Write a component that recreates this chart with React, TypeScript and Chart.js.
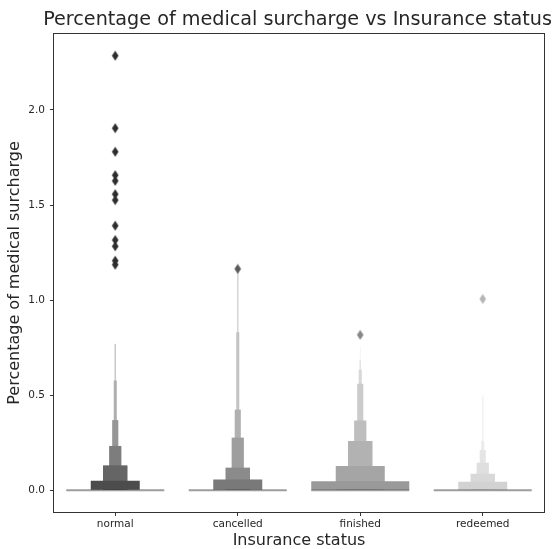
import React, { useEffect, useRef } from 'react';
import { Chart, registerables } from 'chart.js';

Chart.register(...registerables);

const TITLE = 'Percentage of medical surcharge vs Insurance status';
const X_LABEL = 'Insurance status';
const Y_LABEL = 'Percentage of medical surcharge';

const CATEGORIES = ['normal', 'cancelled', 'finished', 'redeemed'];
const Y_TICKS = [0, 0.5, 1.0, 1.5, 2.0];

// Upper letter values of each nested box (widest box first); all boxes start at 0
const NORMAL_LEVELS = [0, 0.05, 0.131, 0.233, 0.369, 0.577, 0.77];
const CANCELLED_LEVELS = [0, 0.056, 0.119, 0.277, 0.424, 0.831, 1.146];
const FINISHED_LEVELS = [0.047, 0.128, 0.259, 0.367, 0.56, 0.634, 0.682, 0.752];
const REDEEMED_LEVELS = [0, 0.045, 0.087, 0.145, 0.212, 0.259, 0.499];

const MEDIANS = [0, 0, 0, 0];

const NORMAL_OUTLIERS = [2.285, 1.904, 1.78, 1.657, 1.627, 1.557, 1.526, 1.391, 1.316, 1.283, 1.207, 1.186];
const CANCELLED_OUTLIERS = [1.164];
const FINISHED_OUTLIERS = [0.817];
const REDEEMED_OUTLIERS = [1.006];

const BASE_GREYS = [51, 102, 153, 204];

const FONT = 'DejaVu Sans';
const TEXT = '#262626';

function levelColor(base: number, i: number) {
  const light = base + 0.85 * (255 - base);
  const v = Math.round(base + ((light - base) * i) / 7);
  return `rgb(${v},${v},${v})`;
}

function diamond(color: string) {
  const c = document.createElement('canvas');
  c.width = 8;
  c.height = 11;
  const g = c.getContext('2d')!;
  g.fillStyle = color;
  g.beginPath();
  g.moveTo(4, 0.5);
  g.lineTo(7.3, 5.5);
  g.lineTo(4, 10.5);
  g.lineTo(0.7, 5.5);
  g.closePath();
  g.fill();
  return c;
}

const framePlugin = {
  id: 'frame',
  afterDatasetsDraw(chart: any) {
    const { ctx, chartArea: a } = chart;
    ctx.save();
    ctx.strokeStyle = '#333333';
    ctx.lineWidth = 1;
    ctx.strokeRect(a.left - 0.5, a.top - 0.5, a.right - a.left + 1, a.bottom - a.top + 1);
    ctx.restore();
  },
};

// Title centred over the plot area (matplotlib style), without width squeezing
const titlePlugin = {
  id: 'axesTitle',
  afterDraw(chart: any) {
    const { ctx, chartArea: a } = chart;
    ctx.save();
    ctx.fillStyle = TEXT;
    ctx.font = `normal 19.2px "${FONT}"`;
    ctx.textAlign = 'center';
    ctx.textBaseline = 'middle';
    ctx.fillText(TITLE, (a.left + a.right) / 2 - 1.5, a.top - 14);
    ctx.restore();
  },
};

export default function App() {
  const ref = useRef<HTMLCanvasElement | null>(null);

  useEffect(() => {
    if (!ref.current) return;
    const levels = [NORMAL_LEVELS, CANCELLED_LEVELS, FINISHED_LEVELS, REDEEMED_LEVELS];
    const outliers = [NORMAL_OUTLIERS, CANCELLED_OUTLIERS, FINISHED_OUTLIERS, REDEEMED_OUTLIERS];
    const maxLevels = Math.max(...levels.map((l) => l.length));

    const all: number[] = [0];
    levels.forEach((l) => all.push(...l));
    outliers.forEach((o) => all.push(...o));
    const lo = Math.min(...all);
    const hi = Math.max(...all);
    const margin = (hi - lo) * 0.05;

    const datasets: any[] = [];

    // median lines
    datasets.push({
      type: 'bar',
      data: MEDIANS.map((m) => [m, m]),
      backgroundColor: 'rgba(38,38,38,0.45)',
      barPercentage: 0.8,
      categoryPercentage: 1,
      grouped: false,
      minBarLength: 1.8,
      order: 0,
    });

    outliers.forEach((o, c) => {
      const v = Math.round(BASE_GREYS[c] * 0.88);
      datasets.push({
        type: 'scatter',
        data: o.map((y) => ({ x: CATEGORIES[c], y })),
        pointStyle: diamond(`rgb(${v},${v},${v})`),
        pointRadius: 5,
        order: 0,
      });
    });

    for (let i = 0; i < maxLevels; i++) {
      datasets.push({
        type: 'bar',
        data: levels.map((l) => (l[i] !== undefined ? [0, l[i]] : null)),
        backgroundColor: BASE_GREYS.map((b) => levelColor(b, i)),
        borderWidth: 0,
        barPercentage: 0.8 * Math.pow(0.5, i),
        categoryPercentage: 1,
        grouped: false,
        order: i + 1,
      });
    }

    const chart = new Chart(ref.current, {
      type: 'bar',
      data: { labels: CATEGORIES, datasets },
      options: {
        animation: false,
        responsive: false,
        layout: { padding: { left: 0, right: 13, top: 34, bottom: 0 } },
        plugins: {
          legend: { display: false },
          tooltip: { enabled: false },
          title: { display: false },
        },
        scales: {
          x: {
            type: 'category',
            offset: true,
            grid: {
              display: true,
              offset: false,
              drawOnChartArea: false,
              drawTicks: true,
              tickLength: 4,
              color: '#333333',
            },
            border: { display: false },
            ticks: {
              color: TEXT,
              font: { family: FONT, size: 10.5 },
              padding: 2,
              maxRotation: 0,
              autoSkip: false,
            },
            title: {
              display: true,
              text: X_LABEL,
              color: TEXT,
              font: { family: FONT, size: 16, lineHeight: 1 },
              padding: { top: 0, bottom: 0 },
            },
            afterFit: (s: any) => {
              s.height = 37;
            },
          },
          y: {
            type: 'linear',
            min: lo - margin,
            max: hi + margin,
            grid: {
              display: true,
              drawOnChartArea: false,
              drawTicks: true,
              tickLength: 4,
              color: '#333333',
            },
            border: { display: false },
            afterBuildTicks: (s: any) => {
              s.ticks = Y_TICKS.map((value) => ({ value }));
            },
            ticks: {
              color: TEXT,
              font: { family: FONT, size: 10.5 },
              padding: 5,
              callback: (v: any) => Number(v).toFixed(1),
            },
            title: {
              display: true,
              text: Y_LABEL,
              color: TEXT,
              font: { family: FONT, size: 16, lineHeight: 1 },
              padding: { top: 7, bottom: 0 },
            },
            afterFit: (s: any) => {
              s.width = 54;
            },
          },
        },
      },
      plugins: [framePlugin, titlePlugin],
    } as any);

    return () => chart.destroy();
  }, []);

  return (
    <div style={{ position: 'absolute', left: 0, top: 0, width: 557, height: 549, background: '#fff' }}>
      <canvas ref={ref} width={557} height={549} style={{ display: 'block' }} />
    </div>
  );
}
